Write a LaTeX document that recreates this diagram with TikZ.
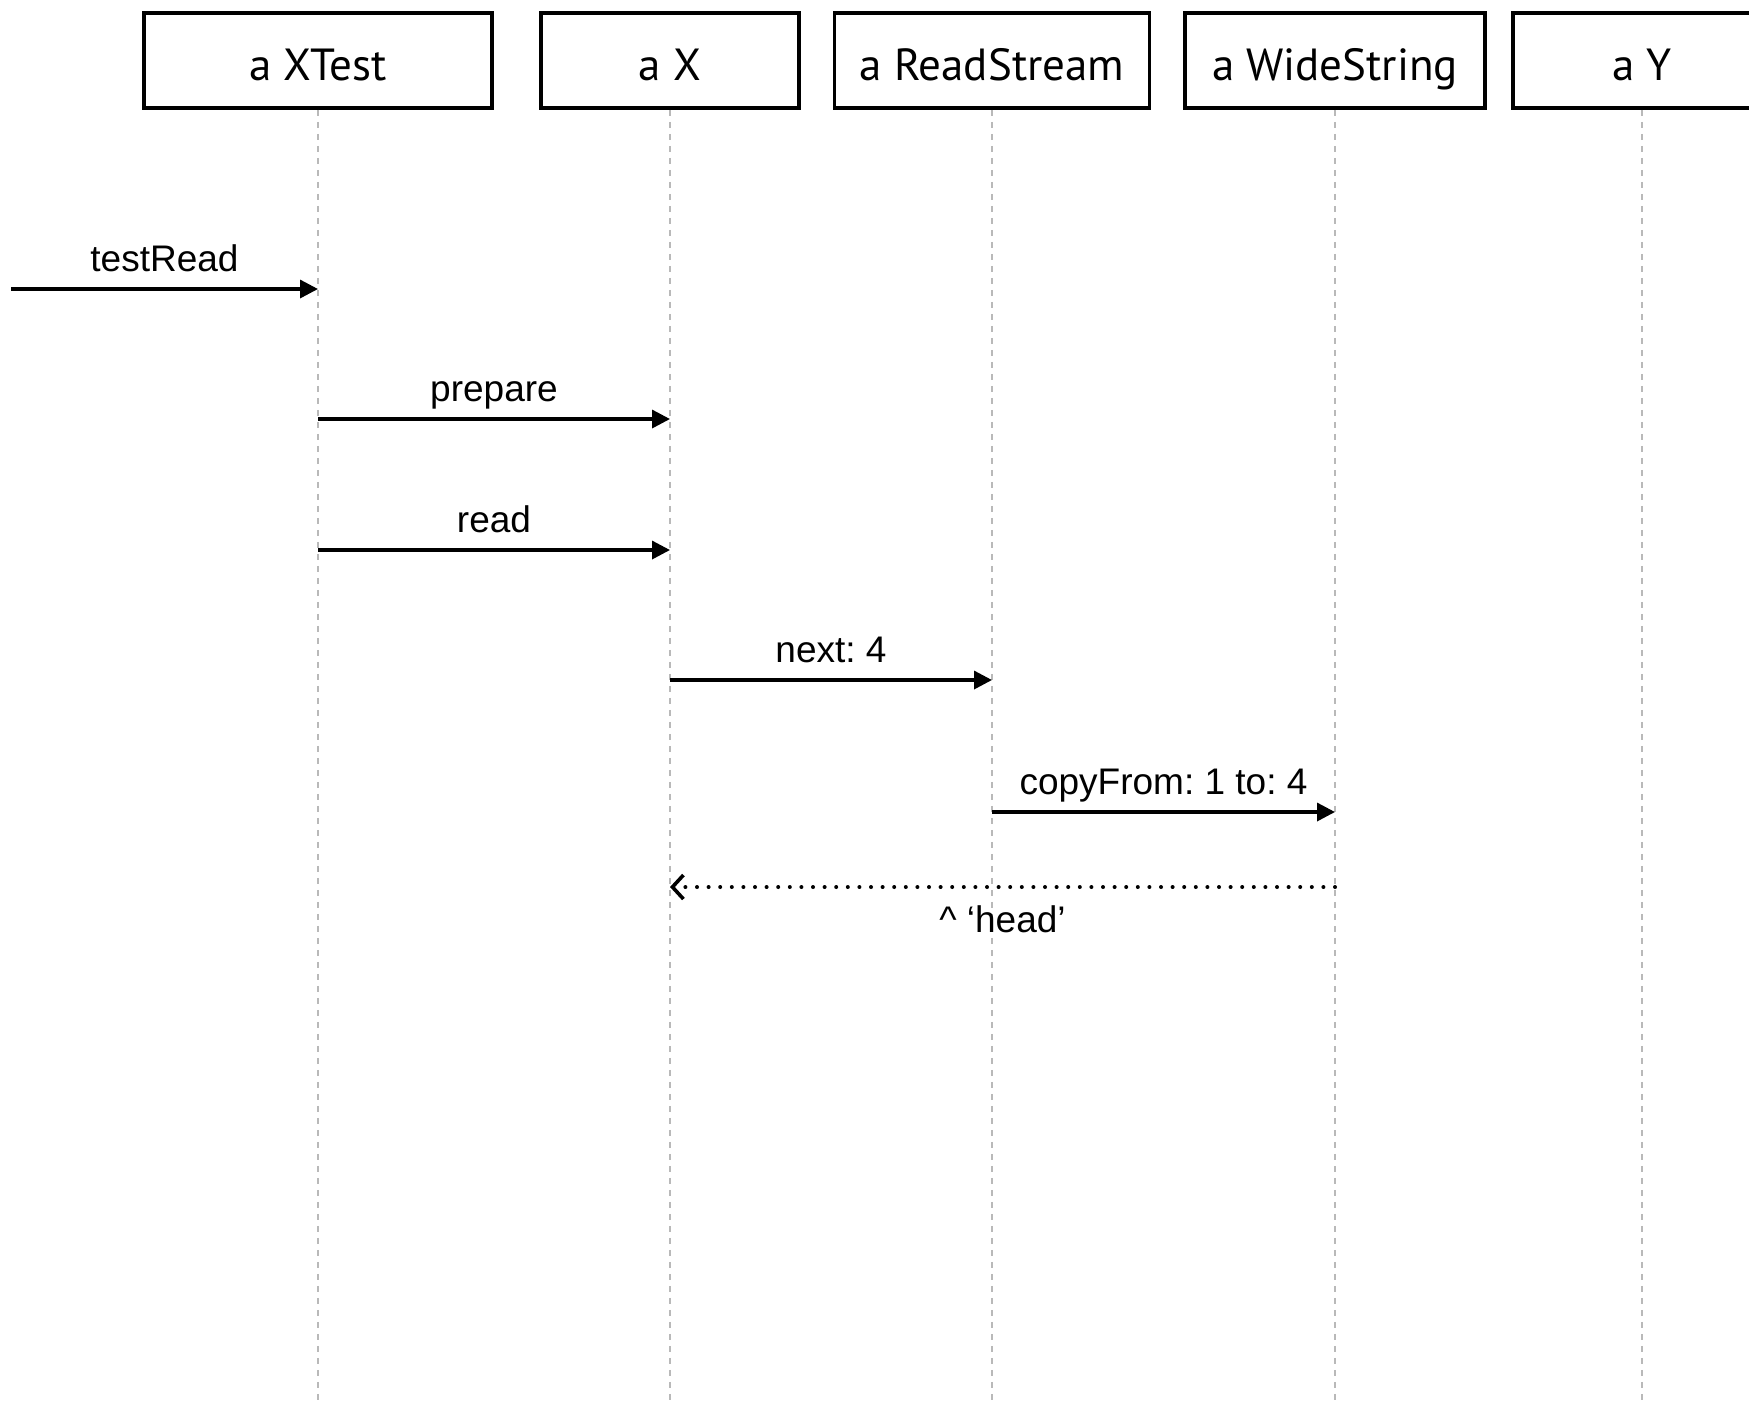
\documentclass[tikz,border=0pt]{standalone}
\usepackage{fontspec}
\setmainfont{Liberation Sans}
\newfontfamily\objfont{PT Sans}
\usetikzlibrary{arrows.meta}
\frenchspacing
%
\tikzset{
  object/.style={draw, line width=1.8pt, minimum height=47.5pt, inner sep=0pt,
                 text height=20pt, text depth=0.4pt,
                 font=\objfont\fontsize{22.5}{26}\selectfont},
  lifeline/.style={gray!55, line width=0.6pt, dash pattern=on 3pt off 3pt},
  call/.style={line width=1.7pt, -{Triangle[length=9pt,width=9pt]}},
  reply/.style={line width=2pt, line cap=round, dash pattern=on 0pt off 5.8pt,
                -{Straight Barb[length=5.5pt,width=12pt,line width=1.8pt]}},
  msglabel/.style={font=\fontsize{18.5}{22}\selectfont, anchor=base, inner sep=0pt},
}
%
\begin{document}
\begin{tikzpicture}[x=0.5pt,y=-0.5pt]%{{{
\clip (0,0) rectangle (1749,1405);
%
% Objets
\node [object, minimum width=174pt]   (xtest) at (318,60.5)  {a XTest};
\node [object, minimum width=129pt]   (x)     at (670,60.5)  {a X};
\node [object, minimum width=157.5pt] (rs)    at (992,60.5)  {a ReadStream};
\node [object, minimum width=150pt]   (ws)    at (1335,60.5) {a WideString};
\node [object, minimum width=129pt]   (y)     at (1642,60.5) {a Y};
%
% Lignes de vie
\foreach \o in {xtest,x,rs,ws,y}
  \draw [lifeline] (\o.south) -- (\o.south |- 0,1405);
%
% Message initial
\coordinate (start) at (11,289);
\draw [call] (start) -- (xtest |- start)
      node [msglabel, midway, yshift=9pt] {testRead};
%
% Appels
\draw [call] (xtest |- 0,419) -- (x |- 0,419)
      node [msglabel, midway, yshift=9pt] {prepare};
\draw [call] (xtest |- 0,550) -- (x |- 0,550)
      node [msglabel, midway, yshift=9pt] {read};
\draw [call] (x |- 0,680) -- (rs |- 0,680)
      node [msglabel, midway, yshift=9pt] {next: 4};
\draw [call] (rs |- 0,812) -- (ws |- 0,812)
      node [msglabel, midway, yshift=9pt] {copyFrom: 1 to: 4};
%
% Retour
\draw [reply] (ws |- 0,887) -- (x |- 0,887)
      node [msglabel, midway, yshift=-22.5pt] {\textasciicircum{} ‘head’};
%
\end{tikzpicture}%}}}
\end{document}
